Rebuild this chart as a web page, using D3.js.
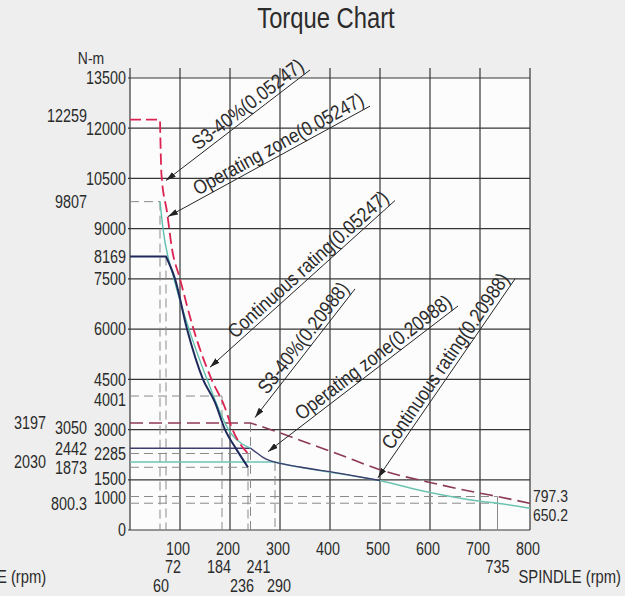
<!DOCTYPE html>
<html><head><meta charset="utf-8">
<script src="https://cdn.jsdelivr.net/npm/d3@7"></script>
<style>
html,body{margin:0;padding:0;background:#eeeeee;}
svg{display:block;}
text{font-family:"Liberation Sans",Arial,sans-serif;fill:#2b2b2b;}
</style></head><body>
<svg id="c" width="625" height="596"></svg>
<script>
// ---- data ----
const xGrid = [0,100,200,300,400,500,600,700,800];
const yGrid = [0,1500,3000,4500,6000,7500,9000,10500,12000,13500];
const xTickRow1 = [100,200,300,400,500,600,700,800];
const xTickRow2 = [72,184,241,735];
const xTickRow3 = [60,236,290];
const yTickMain = [13500,12000,10500,9000,8169,7500,6000,4500,4001,3000,2285,1500,1000,0];
const yTickMid = [12259,9807,3050,2442,1873,800.3];
const yTickOuter = [3197,2030];
const endLabels = [797.3,650.2];

// curves: [rpm, N-m]
const s3Low   = [[0,12259],[60,12259],[63,10600],[74,9500],[84,8400],[100,7500],[127,6000],[163,4500],[189,3690],[205,3000],[236,2285]];
const opLow   = [[60,9807],[66,9000],[88,7500],[118,6000],[154,4500],[197,3000],[241,2442]];
const contLow = [[0,8169],[72,8169],[90,7500],[114,6000],[146,4500],[170,3810],[190,3000],[212,2430],[236,1873]];
const s3High  = [[0,3197],[241,3197],[300,2900],[340,2680],[420,2250],[500,1800],[600,1420],[700,1100],[735,1000],[800,797.3]];
const opHigh  = [[0,2442],[241,2442],[254,2300],[266,2170],[280,2070],[300,1990],[340,1880],[420,1690],[500,1480]];
const contHigh= [[0,2030],[290,2030],[340,1870],[420,1680],[500,1470],[600,1120],[700,860],[735,800.3],[800,650.2]];

// guide lines: [[rpm,T],[rpm,T]]
const guidesDashed = [
  [[0,9807],[60,9807]],[[60,9807],[60,0]],
  [[72,8169],[72,0]],
  [[0,4001],[184,4001]],[[184,4001],[184,0]],
  [[0,2285],[241,2285]],
  [[0,1873],[236,1873]],[[236,2285],[236,0]],
  [[241,3197],[241,0]],
  [[290,2030],[290,0]],
  [[0,1000],[735,1000]],[[0,800.3],[735,800.3]]
];
const guidesSolid = [[[735,1000],[735,0]]];

// annotations: label, arrow tip, line end (rpm, N-m)
const notes = [
  {label:"S3-40%(0.05247)",            tip:[72,10440],  end:[360,13740]},
  {label:"Operating zone(0.05247)",    tip:[76,9360],   end:[480,12660]},
  {label:"Continuous rating(0.05247)", tip:[160,4860],  end:[530,9840]},
  {label:"S3-40%(0.20988)",            tip:[250,3360],  end:[450,7200]},
  {label:"Operating zone(0.20988)",    tip:[276,2340],  end:[656,6690]},
  {label:"Continuous rating(0.20988)", tip:[496,1560],  end:[770,7500]}
];

// label nudges (px) to keep crowded labels apart
const row2Nudge = [7,-3,8,0];
const row3Nudge = [1,-6,4];
const endNudge = [-7,7];
const mainNudge = {4001:4, 1500:-1, 1000:1};
const midNudge = {12259:-4};

// ---- drawing ----
const svg = d3.select("#c");
const x = d3.scaleLinear().domain([0,800]).range([130,530]);
const y = d3.scaleLinear().domain([0,13500]).range([530,78]);

svg.append("rect").attr("x",x(0)).attr("y",y(13500)).attr("width",x(800)-x(0)).attr("height",y(0)-y(13500)).attr("fill","#fcfcfc");

svg.append("text").attr("x",326).attr("y",28).attr("text-anchor","middle").attr("font-size",29).attr("class","cond").text("Torque Chart");

// grid
const gridCol = "#363636";
svg.append("g").selectAll("line").data(xGrid).join("line")
  .attr("x1",d=>x(d)).attr("x2",d=>x(d)).attr("y1",y(13500)-10).attr("y2",y(0))
  .attr("stroke",gridCol).attr("stroke-width",1.2);
svg.append("g").selectAll("line").data(yGrid).join("line")
  .attr("x1",x(0)-2).attr("x2",x(800)).attr("y1",d=>y(d)).attr("y2",d=>y(d))
  .attr("stroke",gridCol).attr("stroke-width",1.2);

const line = d3.line().x(d=>x(d[0])).y(d=>y(d[1]));
const smooth = d3.line().x(d=>x(d[0])).y(d=>y(d[1])).curve(d3.curveMonotoneX);

svg.append("g").selectAll("path").data(guidesDashed).join("path")
  .attr("d",line).attr("fill","none").attr("stroke","#8a8a8a").attr("stroke-width",1).attr("stroke-dasharray","9,5");
svg.append("g").selectAll("path").data(guidesSolid).join("path")
  .attr("d",line).attr("fill","none").attr("stroke","#8a8a8a").attr("stroke-width",1);

function curve(data, color, w, dash, straightN){
  const head = data.slice(0, straightN);
  const tail = data.slice(Math.max(straightN-1,0));
  let d = "";
  head.forEach((p,i)=>{ d += (i===0?"M":"L") + x(p[0]) + "," + y(p[1]); });
  const sd = smooth(tail);
  d += straightN>0 ? sd.replace(/^M[-\d.e]+,[-\d.e]+/, "") : sd;
  const pth = svg.append("path").attr("d", d).attr("fill","none").attr("stroke",color).attr("stroke-width",w);
  if (dash) pth.attr("stroke-dasharray",dash);
}
curve(contHigh, "#6cc3b2", 1.4, null, 2);
curve(opHigh,   "#3c3c6e", 1.4, null, 2);
curve(s3High,   "#8c3a52", 1.6, "13,6", 2);
curve(opLow,    "#5fbfae", 1.4, null, 1);
curve(contLow,  "#1f2a5c", 2.0, null, 2);
curve(s3Low,    "#dc2452", 1.8, "11,5", 2);

// annotations
svg.append("defs").append("marker").attr("id","arr").attr("viewBox","0 0 10 6")
  .attr("refX",10).attr("refY",3).attr("markerWidth",10).attr("markerHeight",6).attr("orient","auto")
  .attr("markerUnits","userSpaceOnUse")
  .append("path").attr("d","M0,0L10,3L0,6Z").attr("fill","#222");
const ng = svg.append("g");
notes.forEach(n=>{
  const x1=x(n.tip[0]), y1=y(n.tip[1]), x2=x(n.end[0]), y2=y(n.end[1]);
  ng.append("line").attr("x1",x2).attr("y1",y2).attr("x2",x1).attr("y2",y1)
    .attr("stroke","#262626").attr("stroke-width",1).attr("marker-end","url(#arr)");
  const ang = Math.atan2(y2-y1, x2-x1)*180/Math.PI;
  ng.append("text").attr("transform",`translate(${x2},${y2}) rotate(${ang})`)
    .attr("x",-3).attr("y",-4).attr("text-anchor","end").attr("font-size",20).attr("class","cond2").text(n.label);
});

// y labels
svg.append("text").attr("x",91).attr("y",64).attr("text-anchor","middle").attr("font-size",17).attr("class","cond").text("N-m");
const yl = svg.append("g").attr("font-size",17.5);
yl.selectAll(".m").data(yTickMain).join("text").attr("class","m cond")
  .attr("x",126).attr("y",d=>y(d)+(mainNudge[d]||0)).attr("dy","0.36em").attr("text-anchor","end").text(d=>d);
yl.selectAll(".d").data(yTickMid).join("text").attr("class","d cond")
  .attr("x",87).attr("y",d=>y(d)+(midNudge[d]||0)).attr("dy","0.36em").attr("text-anchor","end").text(d=>d);
yl.selectAll(".o").data(yTickOuter).join("text").attr("class","o cond")
  .attr("x",46).attr("y",d=>y(d)).attr("dy","0.36em").attr("text-anchor","end").text(d=>d);
yl.selectAll(".e").data(endLabels).join("text").attr("class","e cond")
  .attr("x",x(800)+3).attr("y",(d,i)=>y(d)+endNudge[i]).attr("dy","0.36em").attr("text-anchor","start").attr("font-size",17).text(d=>d);

// x labels
const xl = svg.append("g").attr("font-size",17.5).attr("text-anchor","middle");
xl.selectAll(".r1").data(xTickRow1).join("text").attr("class","r1 cond").attr("x",d=>x(d)-2).attr("y",555).text(d=>d);
xl.selectAll(".r2").data(xTickRow2).join("text").attr("class","r2 cond").attr("x",(d,i)=>x(d)+row2Nudge[i]).attr("y",573).text(d=>d);
xl.selectAll(".r3").data(xTickRow3).join("text").attr("class","r3 cond").attr("x",(d,i)=>x(d)+row3Nudge[i]).attr("y",592).text(d=>d);
svg.append("text").attr("x",621).attr("y",583).attr("text-anchor","end").attr("font-size",18).attr("class","cond").text("SPINDLE (rpm)");
svg.append("text").attr("x",-3).attr("y",583).attr("text-anchor","start").attr("font-size",18).attr("class","cond").text("E (rpm)");

// condense glyphs (narrow face look)
svg.selectAll("text.cond").each(function(){
  const L = this.getComputedTextLength();
  d3.select(this).attr("textLength", L*0.82).attr("lengthAdjust","spacingAndGlyphs");
});
svg.selectAll("text.cond2").each(function(){
  const L = this.getComputedTextLength();
  d3.select(this).attr("textLength", L*0.86).attr("lengthAdjust","spacingAndGlyphs");
});
</script>
</body></html>
